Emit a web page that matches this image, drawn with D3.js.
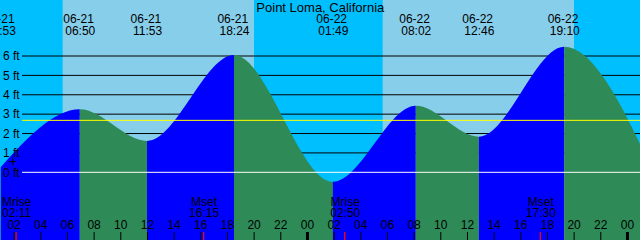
<!DOCTYPE html>
<html>
<head>
<title>Point Loma tides</title>
<script src="https://cdn.jsdelivr.net/npm/d3@7"></script>
<style>
  body { margin: 0; background: #fff; }
  svg { display: block; font-family: "Liberation Sans", Arial, sans-serif; font-size: 12px; }
</style>
</head>
<body>
<div id="chart"></div>
<script>
// tide extremes (last one lies past the right edge, the curve runs into it)
var tideTimes = ["06-21 00:53", "06-21 06:50", "06-21 11:53", "06-21 18:24",
                 "06-22 01:49", "06-22 08:02", "06-22 12:46", "06-22 19:10", "06-23 02:20"];
var tideHeights = [0.25, 3.25, 1.62, 6.05, -0.49, 3.43, 1.84, 6.48, -0.75];

var sunTimes = ["06-21 05:33", "06-21 19:54", "06-22 05:33", "06-22 19:54"]; // rise, set, rise, set
var moonTimes = ["06-21 02:11", "06-21 16:15", "06-22 02:50", "06-22 17:30"];
var moonKinds = ["Mrise", "Mset", "Mrise", "Mset"];
var feetTicks = [0, 1, 2, 3, 4, 5, 6];
var meanLevel = 2.68;
var nowMark = { time: "06-21 01:53", ft: 0.55 };

var title = "Point Loma, California";
var startTime = "06-21 00:51", endTime = "06-23 00:51";

var width = 640, height = 240;
var parse = d3.timeParse("%m-%d %H:%M");

var x = d3.scaleTime()
  .domain([parse(startTime), parse(endTime)])
  .range([0, width]);
var y = d3.scaleLinear()
  .domain([0, 6])
  .range([172.3, 56]);

var svg = d3.select("#chart").append("svg")
  .attr("width", width)
  .attr("height", height);

// night background, then daylight bands
svg.append("rect").attr("width", width).attr("height", height).attr("fill", "#00bfff");
for (var i = 0; i < sunTimes.length; i += 2) {
  svg.append("rect")
    .attr("x", x(parse(sunTimes[i])))
    .attr("y", 0)
    .attr("width", x(parse(sunTimes[i + 1])) - x(parse(sunTimes[i])))
    .attr("height", height)
    .attr("fill", "#87ceeb");
}

// foot grid lines (black, hidden under the water)
svg.selectAll(".grid")
  .data(feetTicks.filter(function(d) { return d > 0; }))
  .enter().append("line")
    .attr("x1", 22).attr("x2", width)
    .attr("y1", function(d) { return y(d); })
    .attr("y2", function(d) { return y(d); })
    .attr("stroke", "#000").attr("stroke-width", 1);

// tide area
var tide = tideTimes.map(function(t, i) { return { t: parse(t), v: tideHeights[i] }; });
var area = d3.area()
  .x(function(d) { return x(d.t); })
  .y0(height)
  .y1(function(d) { return y(d.v); })
  .curve(d3.curveMonotoneX);

var defs = svg.append("defs");
for (var k = 0; k < tide.length - 1; k++) {
  var x0 = x(tide[k].t), x1 = x(tide[k + 1].t);
  defs.append("clipPath").attr("id", "seg" + k)
    .append("rect").attr("x", x0).attr("y", 0).attr("width", x1 - x0).attr("height", height);
  var rising = tide[k + 1].v > tide[k].v;
  svg.append("path")
    .datum(tide)
    .attr("d", area)
    .attr("clip-path", "url(#seg" + k + ")")
    .attr("fill", rising ? "#0000ff" : "#2e8b57");
}
// sliver before the first low
defs.append("clipPath").attr("id", "segpre")
  .append("rect").attr("x", 0).attr("y", 0).attr("width", x(tide[0].t)).attr("height", height);
svg.append("rect").attr("clip-path", "url(#segpre)")
  .attr("x", 0).attr("y", y(tideHeights[0]) + 6).attr("width", 2).attr("height", height)
  .attr("fill", "#2e8b57");

// zero line and mean level
svg.append("line").attr("x1", 22).attr("x2", width)
  .attr("y1", y(0)).attr("y2", y(0)).attr("stroke", "#fff");
svg.append("line").attr("x1", 22).attr("x2", width)
  .attr("y1", y(meanLevel)).attr("y2", y(meanLevel)).attr("stroke", "#ffff00");

// foot labels
svg.selectAll(".ftlab")
  .data(feetTicks)
  .enter().append("text")
    .attr("x", 3)
    .attr("y", function(d) { return y(d) + 4.3; })
    .text(function(d) { return d + " ft"; });

// small cross marker
var mx = x(parse(nowMark.time)) - 1, my = y(nowMark.ft);
svg.append("path")
  .attr("d", "M" + (mx - 4) + "," + my + "H" + (mx + 3) + "M" + mx + "," + (my - 4) + "V" + (my + 4))
  .attr("stroke", "#000").attr("fill", "none");

// annotations (drawn a pixel to the left, like the original)
var ann = svg.append("g").attr("transform", "translate(-1.2,0)");

ann.append("text")
  .attr("x", width / 2 + 1.5).attr("y", 12)
  .attr("text-anchor", "middle")
  .style("font-size", "13px")
  .text(title);

var fmtDate = d3.timeFormat("%m-%d"), fmtTime = d3.timeFormat("%H:%M");
var shown = tide.filter(function(d) { return d.t <= x.domain()[1]; });
var lab = ann.selectAll(".tlab").data(shown).enter().append("g");
lab.append("text")
  .attr("x", function(d) { return x(d.t); })
  .attr("y", 23)
  .attr("text-anchor", "middle")
  .text(function(d) { return fmtDate(d.t); });
lab.append("text")
  .attr("x", function(d) { return x(d.t) + 1.7; })
  .attr("y", 35)
  .attr("text-anchor", "middle")
  .text(function(d) { return fmtTime(d.t); });

// hour axis along the bottom
var hours = x.ticks(d3.timeHour.every(2));
ann.selectAll(".hlab")
  .data(hours)
  .enter().append("text")
    .attr("x", function(d) { return x(d); })
    .attr("y", 229)
    .attr("text-anchor", "middle")
    .text(d3.timeFormat("%H"));
ann.selectAll(".htick")
  .data(hours)
  .enter().append("line")
    .attr("x1", function(d) { return x(d); })
    .attr("x2", function(d) { return x(d); })
    .attr("y1", 232).attr("y2", height)
    .attr("stroke", "#000")
    .attr("stroke-width", function(d) { return d.getHours() === 0 ? 3 : 1; });

// moon rise / set
var moon = moonTimes.map(function(t, i) { return { t: parse(t), kind: moonKinds[i] }; });
ann.selectAll(".mtick")
  .data(moon)
  .enter().append("line")
    .attr("x1", function(d) { return x(d.t) - 0.5; })
    .attr("x2", function(d) { return x(d.t) - 0.5; })
    .attr("y1", 232).attr("y2", height)
    .attr("stroke", "#ff0000").attr("stroke-width", 1.3);
var ml = ann.selectAll(".mlab").data(moon).enter().append("g");
ml.append("text")
  .attr("x", function(d) { return x(d.t); })
  .attr("y", 206)
  .attr("text-anchor", "middle")
  .text(function(d) { return d.kind; });
ml.append("text")
  .attr("x", function(d) { return x(d.t); })
  .attr("y", 217)
  .attr("text-anchor", "middle")
  .text(function(d) { return fmtTime(d.t); });
</script>
</body>
</html>
